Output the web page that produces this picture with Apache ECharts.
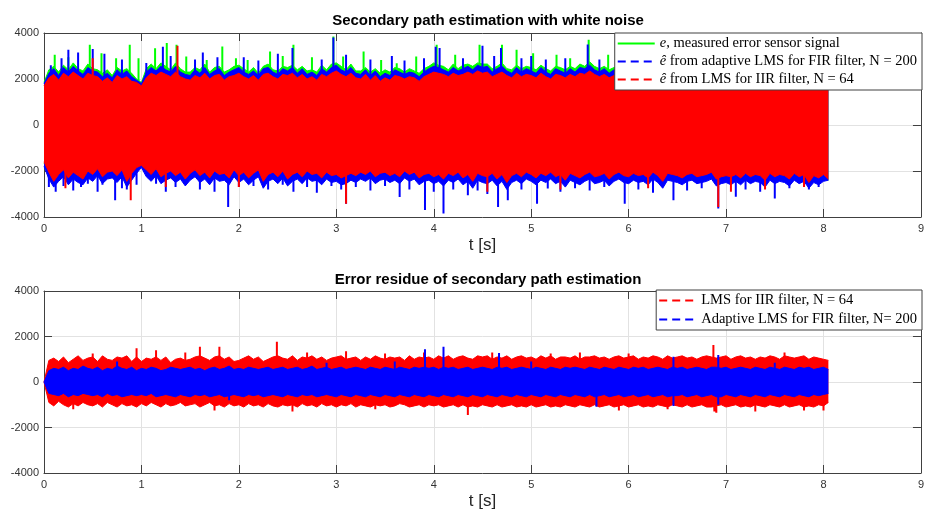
<!DOCTYPE html>
<html>
<head>
<meta charset="utf-8">
<script src="https://cdn.jsdelivr.net/npm/echarts@6/dist/echarts.min.js"></script>
<style>html,body{margin:0;padding:0;background:#fff}#c{width:927px;height:518px}</style>
</head>
<body>
<div id="c"></div>
<script>
// ---- Data: dense-band envelopes at 0.05 s steps + isolated peaks ----
const DT = 0.05;
const xTicks = [0,1,2,3,4,5,6,7,8,9];
const yTicks = [-4000,-2000,0,2000,4000];

// Top panel bodies (upper / lower envelope)
const eHi = [1850,2400,2550,2300,2600,2400,2700,2450,2350,2650, 2450,2400,2250,2400,2150,2500,2350,2450,2250,2000,
  1850,2450,2650,2450,2700,2550,2400,2700,2450,2300, 2300,2500,2400,2650,2300,2500,2550,2300,2400,2550,
  2600,2450,2300,2500,2250,2550,2650,2400,2350,2550, 2500,2600,2400,2550,2350,2400,2300,2600,2400,2650,
  2700,2550,2400,2650,2350,2350,2500,2300,2450,2250, 2400,2300,2500,2450,2300,2450,2350,2250,2450,2550,
  2700,2600,2550,2400,2650,2450,2600,2650,2550,2700, 2650,2650,2450,2550,2700,2450,2400,2600,2450,2550,
  2500,2400,2600,2450,2350,2550,2500,2400,2550,2450, 2650,2550,2750,2550,2450,2550,2400,2500,2450,2350,
  2450,2400,2550,2450,2350,2500,2450,2600,2400,2550, 2450,2350,2500,2400,2550,2450,2300,2500,2400,2550,
  2450,2550,2400,2500,2350,2450,2600,2400,2500,2350, 2450,2400,2550,2350,2500,2450,2400,2550,2450,2500,
  2400,2300];
const eLo = [-1650,-2100,-2500,-2200,-2000,-2350,-2100,-2250,-2400,-2050, -2200,-1950,-2300,-2100,-2050,-2250,-2000,-2500,-2150,-1900,
  -1800,-2000,-2200,-1950,-2300,-2150,-2050,-2250,-2100,-2400, -2150,-2000,-2250,-2100,-2350,-2050,-2200,-2150,-2350,-2000,
  -2250,-2100,-2350,-2150,-2000,-2500,-2200,-2100,-2300,-2050, -2400,-2200,-2100,-2300,-2050,-2200,-2150,-2350,-2100,-2250,
  -2200,-2350,-2250,-2150,-2250,-2100,-2200,-2050,-2300,-2150, -2100,-2250,-2150,-2300,-2050,-2200,-2100,-2350,-2200,-2150,
  -2300,-2200,-2400,-2150,-2250,-2100,-2350,-2200,-2500,-2150, -2250,-2300,-2150,-2400,-2200,-2550,-2250,-2150,-2300,-2100,
  -2200,-2350,-2150,-2250,-2100,-2300,-2200,-2450,-2150,-2250, -2350,-2200,-2100,-2300,-2250,-2150,-2400,-2200,-2100,-2250,
  -2300,-2150,-2250,-2200,-2350,-2100,-2250,-2500,-2150,-2200, -2250,-2350,-2200,-2150,-2300,-2250,-2200,-2100,-2400,-2300,
  -2250,-2300,-2200,-2350,-2150,-2300,-2200,-2250,-2450,-2150, -2300,-2200,-2250,-2400,-2150,-2300,-2200,-2550,-2250,-2350,
  -2200,-2400];
const firHi = [1800,2250,2450,2150,2500,2300,2550,2350,2200,2500, 2350,2300,2100,2250,2050,2400,2200,2350,2100,1950,
  1800,2300,2500,2350,2550,2400,2300,2550,2300,2200, 2150,2400,2250,2500,2200,2350,2450,2150,2300,2400,
  2500,2300,2200,2350,2150,2450,2500,2300,2200,2450, 2350,2500,2250,2450,2200,2300,2150,2450,2300,2500,
  2600,2400,2300,2500,2250,2200,2400,2150,2350,2100, 2250,2150,2400,2300,2200,2300,2250,2100,2300,2450,
  2550,2500,2400,2300,2500,2350,2450,2550,2400,2600, 2500,2550,2300,2450,2550,2350,2250,2500,2300,2450,
  2350,2250,2500,2300,2200,2450,2350,2250,2450,2300, 2500,2450,2600,2400,2300,2450,2250,2400,2300,2200,
  2350,2250,2450,2300,2200,2400,2300,2500,2250,2450, 2300,2200,2400,2250,2450,2300,2150,2400,2250,2450,
  2300,2450,2250,2400,2200,2300,2500,2250,2400,2200, 2300,2250,2450,2200,2400,2300,2250,2450,2300,2400,
  2250,2200];
const firLo = [-1800,-2350,-2700,-2450,-2250,-2600,-2350,-2500,-2600,-2300, -2450,-2200,-2550,-2350,-2300,-2500,-2250,-2700,-2400,-2100,
  -1850,-2250,-2450,-2200,-2550,-2400,-2300,-2500,-2350,-2650, -2400,-2250,-2500,-2350,-2600,-2300,-2450,-2400,-2600,-2250,
  -2500,-2350,-2600,-2400,-2250,-2750,-2450,-2350,-2550,-2300, -2650,-2450,-2350,-2550,-2300,-2450,-2400,-2600,-2350,-2500,
  -2450,-2600,-2550,-2400,-2500,-2350,-2450,-2300,-2550,-2400, -2350,-2500,-2400,-2550,-2300,-2450,-2350,-2600,-2450,-2400,
  -2550,-2450,-2650,-2400,-2500,-2350,-2600,-2450,-2750,-2400, -2500,-2550,-2400,-2650,-2450,-2800,-2500,-2400,-2550,-2350,
  -2450,-2600,-2400,-2500,-2350,-2550,-2450,-2700,-2400,-2500, -2600,-2450,-2350,-2550,-2500,-2400,-2650,-2450,-2350,-2500,
  -2550,-2400,-2500,-2450,-2600,-2350,-2500,-2750,-2400,-2450, -2500,-2600,-2450,-2400,-2550,-2500,-2450,-2350,-2650,-2550,
  -2500,-2600,-2450,-2600,-2400,-2550,-2450,-2500,-2700,-2400, -2550,-2450,-2500,-2650,-2400,-2550,-2450,-2750,-2500,-2600,
  -2450,-2400];
const iirHi = [1700,2050,2200,1950,2250,2100,2300,2150,2000,2250, 2150,2100,1900,2050,1850,2150,2000,2100,1900,1850,
  1700,2050,2250,2150,2300,2200,2100,2300,2100,2000, 1950,2150,2050,2250,2000,2150,2200,1950,2100,2150,
  2250,2100,2000,2150,1950,2200,2250,2100,2000,2200, 2150,2250,2050,2200,2000,2100,1950,2200,2100,2250,
  2350,2200,2100,2250,2050,2000,2200,1950,2150,1900, 2050,1950,2150,2100,2000,2100,2050,1900,2100,2200,
  2300,2250,2200,2100,2250,2150,2200,2300,2200,2350, 2250,2300,2100,2200,2300,2150,2050,2250,2100,2200,
  2150,2050,2250,2100,2000,2200,2150,2050,2200,2100, 2250,2200,2350,2200,2100,2200,2050,2150,2100,2000,
  2150,2050,2200,2100,2000,2150,2100,2250,2050,2200, 2100,2000,2150,2050,2200,2100,1950,2150,2050,2200,
  2100,2200,2050,2150,2000,2100,2250,2050,2150,2000, 2100,2050,2200,2000,2150,2100,2050,2200,2100,2150,
  2050,2100];
const iirLo = [-1600,-2050,-2450,-2150,-1950,-2300,-2050,-2200,-2350,-2000, -2150,-1900,-2250,-2050,-2000,-2200,-1950,-2450,-2100,-1850,
  -1750,-1950,-2150,-1900,-2250,-2100,-2000,-2200,-2050,-2350, -2100,-1950,-2200,-2050,-2300,-2000,-2150,-2100,-2300,-1950,
  -2200,-2050,-2300,-2100,-1950,-2450,-2150,-2050,-2250,-2000, -2350,-2150,-2050,-2250,-2000,-2150,-2100,-2300,-2050,-2200,
  -2150,-2300,-2200,-2100,-2200,-2050,-2150,-2000,-2250,-2100, -2050,-2200,-2100,-2250,-2000,-2150,-2050,-2300,-2150,-2100,
  -2250,-2150,-2350,-2100,-2200,-2050,-2300,-2150,-2450,-2100, -2200,-2250,-2100,-2350,-2150,-2500,-2200,-2100,-2250,-2050,
  -2150,-2300,-2100,-2200,-2050,-2250,-2150,-2400,-2100,-2200, -2300,-2150,-2050,-2250,-2200,-2100,-2350,-2150,-2050,-2200,
  -2250,-2100,-2200,-2150,-2300,-2050,-2200,-2450,-2100,-2150, -2200,-2300,-2150,-2100,-2250,-2200,-2150,-2050,-2350,-2250,
  -2200,-2250,-2150,-2300,-2100,-2250,-2150,-2200,-2400,-2100, -2250,-2150,-2200,-2350,-2100,-2250,-2150,-2500,-2200,-2300,
  -2150,-2350];

// Top panel isolated peaks [t, value]
const ePeaks = [[0.11,3050],[0.25,2950],[0.47,3490],[0.59,3120],[0.74,2900],[0.88,3490],[0.97,2900],[1.14,3340],[1.26,3560],
  [1.36,3490],[1.46,2980],[1.67,2830],[1.83,3410],[1.97,2900],[2.09,2830],[2.32,3200],[2.45,3000],[2.56,3490],[2.75,2950],
  [2.97,3850],[3.07,2980],[3.28,3200],[3.46,2830],[3.62,2690],[3.82,2980],[4.03,3490],[4.22,3050],[4.47,3490],[4.70,3490],
  [4.85,3270],[5.02,3120],[5.26,3050],[5.40,2900],[5.59,3710],[5.79,3050]];
const firPeaks = [[0.07,2600],[0.18,2900],[0.25,3270],[0.35,3150],[0.50,3300],[0.62,3100],[0.80,2850],[1.05,2700],[1.22,3400],
  [1.30,3000],[1.55,2850],[1.63,3150],[1.78,2950],[2.05,2950],[2.20,2800],[2.40,3100],[2.55,3350],[2.85,2850],[2.97,3800],
  [3.10,3050],[3.35,2850],[3.57,3000],[3.70,2800],[3.90,2900],[4.02,3400],[4.06,3350],[4.30,2900],[4.50,3450],[4.62,3000],
  [4.69,3350],[4.90,2900],[5.00,3000],[5.15,2850],[5.35,2900],[5.58,3500],[5.70,2850],
  [0.05,-2700],[0.12,-2900],[0.20,-2650],[0.30,-2850],[0.38,-2700],[0.45,-2550],[0.55,-2900],[0.60,-2600],[0.73,-3270],
  [0.80,-2750],[0.85,-2800],[0.95,-2600],[1.15,-2550],[1.25,-2900],[1.35,-2700],[1.45,-2550],[1.60,-2800],[1.75,-2900],
  [1.89,-3560],[2.00,-2700],[2.15,-2650],[2.30,-2800],[2.45,-2600],[2.56,-2900],[2.70,-2700],[2.80,-2950],[2.95,-2650],
  [3.05,-2800],[3.10,-3420],[3.20,-2700],[3.35,-2850],[3.50,-2650],[3.65,-3130],[3.75,-2800],[3.91,-3700],[4.00,-2900],
  [4.10,-3850],[4.20,-2800],[4.35,-3050],[4.45,-2850],[4.55,-3000],[4.66,-3560],[4.76,-3270],[4.90,-2800],[5.06,-3420],
  [5.17,-2760],[5.30,-2900],[5.45,-2750],[5.60,-2850],[5.75,-2700],[5.96,-3420],[6.10,-2800],[6.25,-2950],[6.35,-2700],
  [6.46,-3270],[6.60,-2850],[6.75,-2750],[6.92,-3630],[7.10,-3120],[7.20,-2800],[7.35,-2900],[7.50,-3200],[7.65,-2750],
  [7.85,-2800],[7.95,-2700]];
const iirPeaks = [[0.50,2900],[1.37,3450],[0.22,-2750],[0.89,-3270],[1.25,-2700],[2.00,-2700],[3.10,-3420],[4.55,-2900],
  [5.30,-2800],[6.20,-2750],[6.92,-3560],[7.05,-2900],[7.40,-2800],[7.80,-2700]];

// Bottom panel bodies
const resIirHi = [0,950,1050,900,1100,850,1000,1150,950,1050, 1100,900,1150,1000,950,1100,1050,1150,900,1100,
  900,1050,1000,1100,950,1100,850,1000,1050,950, 1000,1100,1150,1050,950,1100,1150,1000,1100,900,
  950,1050,1150,1000,1100,900,1000,1100,1150,1050, 1000,1150,950,1100,1050,1150,1000,1100,950,1050,
  1100,1150,1000,1050,1100,950,1100,1000,1150,1050, 1000,1100,1050,1100,950,1150,1000,1100,1050,1100,
  1000,1150,1050,1150,1000,1100,1150,1050,1000,1150, 1100,1150,1000,1100,1050,1150,1000,1100,1150,1050,
  1100,1000,1150,1050,1150,1000,1100,1100,1050,1150, 1000,1100,1100,1150,1050,1100,1000,1100,1150,1050,
  1100,1150,1000,1100,1050,1150,1100,1000,1150,1050, 1100,1150,1050,1100,1000,1100,1150,1100,1050,1100,
  1150,1000,1100,1150,1050,1100,1000,1100,1050,1150, 1100,1000,1150,1100,1050,1100,1150,1000,1100,1050,
  1000,950];
const resIirLo = [0,-900,-1050,-850,-1000,-1100,-950,-1050,-900,-1000, -1050,-950,-1100,-900,-1000,-1100,-950,-1050,-1000,-1100,
  -950,-1050,-900,-1000,-1100,-950,-1050,-1000,-900,-1050, -1000,-950,-1100,-1000,-900,-1050,-1000,-1100,-950,-1050,
  -1000,-1100,-950,-1050,-1000,-1100,-950,-1050,-1100,-1000, -1050,-1000,-1100,-950,-1050,-1000,-1100,-950,-1050,-1000,
  -1100,-1000,-1050,-950,-1100,-1000,-1050,-1100,-1000,-1050, -1000,-1100,-1050,-950,-1000,-1100,-1050,-1000,-1100,-1000,
  -1050,-1000,-1100,-1050,-1000,-1100,-1000,-1100,-1050,-1100, -1000,-1050,-1100,-1000,-1100,-1050,-1000,-1100,-1050,-1100,
  -1000,-1100,-1050,-1000,-1100,-1050,-1100,-1000,-1050,-1100, -1000,-1050,-1100,-1000,-1100,-1050,-1000,-1100,-1050,-1000,
  -1100,-1050,-1000,-1100,-1050,-1100,-1000,-1050,-1100,-1000, -1050,-1100,-1000,-1100,-1050,-1000,-1100,-1100,-1050,-1000,
  -1100,-1050,-1000,-1100,-1050,-1100,-1000,-1050,-1100,-1000, -1050,-1100,-1000,-1100,-1050,-1000,-1100,-1050,-1100,-1000,
  -1050,-900];
const resFirHi = [0,500,600,550,650,500,600,550,700,600, 550,650,500,600,550,700,600,550,650,500,
  600,550,650,600,500,550,650,600,550,600, 650,550,600,500,600,650,550,600,700,550,
  600,550,650,600,550,600,650,550,600,650, 550,600,650,550,600,700,550,600,650,550,
  600,650,550,600,650,600,550,650,600,550, 650,600,550,650,600,550,650,600,650,600,
  650,550,650,600,650,550,600,650,550,600, 650,600,550,650,600,650,550,600,650,600,
  550,650,600,550,650,600,550,650,600,650, 600,550,650,600,550,650,600,550,650,600,
  550,650,600,650,550,600,650,600,550,650, 600,650,550,600,650,600,550,650,650,600,
  650,550,600,650,600,550,650,600,550,650, 600,550,650,600,550,650,600,650,550,600,
  650,550];
const resFirLo = [0,-500,-550,-600,-500,-650,-550,-600,-500,-550, -600,-550,-650,-500,-600,-550,-650,-600,-550,-600,
  -550,-600,-500,-650,-600,-550,-600,-650,-550,-600, -650,-550,-600,-550,-650,-600,-550,-650,-600,-550,
  -600,-650,-550,-600,-550,-650,-600,-550,-600,-650, -550,-600,-650,-550,-600,-550,-650,-600,-550,-600,
  -650,-550,-600,-650,-550,-600,-650,-550,-600,-650, -550,-600,-650,-550,-600,-650,-550,-600,-650,-550,
  -600,-650,-550,-600,-650,-550,-600,-650,-550,-600, -650,-550,-600,-650,-550,-600,-650,-550,-600,-650,
  -550,-600,-650,-550,-600,-650,-550,-600,-650,-550, -600,-650,-550,-650,-600,-550,-650,-600,-550,-650,
  -600,-550,-650,-600,-550,-650,-600,-550,-650,-600, -600,-550,-650,-600,-550,-650,-600,-550,-650,-650,
  -550,-600,-650,-550,-600,-650,-550,-600,-650,-550, -600,-650,-550,-600,-650,-550,-600,-650,-550,-600,
  -550,-500];
const resIirPeaks = [[0.30,-1200],[0.50,1250],[0.95,1480],[1.15,1400],[1.45,1300],[1.60,1550],[1.75,-1250],[1.80,1550],
  [2.39,1770],[2.55,-1300],[2.70,1300],[3.10,1350],[3.40,-1200],[3.50,1250],[3.90,1300],[4.35,-1450],[4.60,1300],
  [5.20,1250],[5.50,1300],[5.90,-1250],[6.00,1250],[6.40,-1200],[6.87,1625],[6.88,-1300],[6.90,-1350],[7.30,-1300],
  [7.60,1300],[7.80,-1250],[8.00,-1250]];
const resFirPeaks = [[0.75,900],[1.90,-800],[2.90,850],[3.60,900],[3.91,1440],[4.10,1550],[4.67,1270],[5.00,900],
  [5.67,-1085],[6.46,1110],[6.46,-1060],[6.92,1190],[6.92,-1000],[7.50,850]];

const titles = ['Secondary path estimation with white noise', 'Error residue of secondary path estimation'];
const NAME_E = 'e, measured error sensor signal';
const NAME_FIR = 'ê from adaptive LMS for FIR filter, N = 200';
const NAME_IIR = 'ê from LMS for IIR filter, N = 64';
const NAME_RIIR = 'LMS for IIR filter, N = 64';
const NAME_RFIR = 'Adaptive LMS for FIR filter, N= 200';

// ---- Styling / build ----
const GREEN = '#00ff00', BLUE = '#0000ff', RED = '#ff0000';
const AX = '#404040', GRIDC = '#e2e2e2', LBL = '#333333';
const SANS = 'Liberation Sans, Arial, Helvetica, sans-serif';
const SERIF = 'Liberation Serif, Times New Roman, serif';
const time = eHi.map((_, i) => +(i * DT).toFixed(2));

function band(name, hi, lo, color, xi, yi, z) {
  const mk = arr => ({
    name, type: 'line', xAxisIndex: xi, yAxisIndex: yi, symbol: 'none', silent: true, z,
    data: time.map((t, i) => [t, arr[i]]),
    lineStyle: { color, width: 1 }, itemStyle: { color },
    areaStyle: { color, opacity: 1 }
  });
  return [mk(hi), mk(lo)];
}
function peaks(name, list, color, xi, yi, z) {
  return {
    name, type: 'line', xAxisIndex: xi, yAxisIndex: yi, symbol: 'none', silent: true, z,
    data: list.flatMap(([t, v]) => [[t, 0], [t, v], [t, 0]]),
    lineStyle: { color, width: 2 }, itemStyle: { color }
  };
}

const axLine = { show: true, onZero: false, lineStyle: { color: AX } };
const axTick = { show: true, inside: true, length: 8, lineStyle: { color: AX } };
function xAxes(gi) {
  return [
    { gridIndex: gi, type: 'value', min: 0, max: 9, interval: 1, position: 'bottom',
      axisLine: axLine, axisTick: axTick,
      axisLabel: { color: LBL, fontFamily: SANS, fontSize: 11, margin: 6,
        formatter: v => xTicks.includes(v) ? String(v) : '' },
      splitLine: { show: true, lineStyle: { color: GRIDC, width: 1 } },
      name: 't [s]', nameLocation: 'middle', nameGap: 20,
      nameTextStyle: { fontFamily: SANS, fontSize: 17, color: '#262626' } },
    { gridIndex: gi, type: 'value', min: 0, max: 9, interval: 1, position: 'top', z: 10,
      axisLine: axLine, axisTick: axTick,
      axisLabel: { show: false }, splitLine: { show: false } }
  ];
}
function yAxes(gi) {
  return [
    { gridIndex: gi, type: 'value', min: -4000, max: 4000, interval: 2000, position: 'left',
      axisLine: axLine, axisTick: axTick,
      axisLabel: { color: LBL, fontFamily: SANS, fontSize: 11, margin: 5,
        formatter: v => yTicks.includes(v) ? String(v) : '' },
      splitLine: { show: true, lineStyle: { color: GRIDC, width: 1 } } },
    { gridIndex: gi, type: 'value', min: -4000, max: 4000, interval: 2000, position: 'right', z: 10,
      axisLine: axLine, axisTick: axTick,
      axisLabel: { show: false }, splitLine: { show: false } }
  ];
}

const legendText = {
  fontFamily: SERIF, fontSize: 14.5, color: '#000',
  rich: { i: { fontFamily: SERIF, fontSize: 14.5, fontStyle: 'italic', color: '#000' },
          n: { fontFamily: SERIF, fontSize: 14.5, color: '#000' } }
};
function legendFmt(name) {
  if (name === NAME_E) return '{i|e}{n|, measured error sensor signal}';
  if (name.startsWith('ê')) return '{i|ê}{n|' + name.slice(1) + '}';
  return '{n|' + name + '}';
}
const DASH = [8, 5];
const hideSym = { opacity: 0, borderWidth: 0 };
function legendItem(name, color, dashed) {
  return { name, itemStyle: hideSym, lineStyle: { type: dashed ? DASH : 'solid', width: 2, color } };
}

const option = {
  animation: false,
  backgroundColor: '#ffffff',
  title: [
    { text: titles[0], left: 483, top: 8, textAlign: 'center',
      textStyle: { fontFamily: SANS, fontSize: 15, fontWeight: 'bold', color: '#000' } },
    { text: titles[1], left: 483, top: 267, textAlign: 'center',
      textStyle: { fontFamily: SANS, fontSize: 15, fontWeight: 'bold', color: '#000' } }
  ],
  grid: [
    { left: 44, right: 5, top: 33, height: 184, show: true, backgroundColor: '#fff', borderWidth: 0 },
    { left: 44, right: 5, top: 291, height: 182, show: true, backgroundColor: '#fff', borderWidth: 0 }
  ],
  xAxis: [...xAxes(0), ...xAxes(1)],
  yAxis: [...yAxes(0), ...yAxes(1)],
  legend: [
    { orient: 'vertical', right: 5, top: 33, padding: [3, 5, 3, 2], itemWidth: 37, itemHeight: 14, itemGap: 3, z: 20,
      backgroundColor: '#fff', borderColor: AX, borderWidth: 1, borderRadius: 0, selectedMode: false,
      textStyle: legendText, formatter: legendFmt,
      data: [legendItem(NAME_E, GREEN, false), legendItem(NAME_FIR, BLUE, true), legendItem(NAME_IIR, RED, true)] },
    { orient: 'vertical', right: 5, top: 290, padding: [3, 5, 3, 2], itemWidth: 37, itemHeight: 14, itemGap: 4, z: 20,
      backgroundColor: '#fff', borderColor: AX, borderWidth: 1, borderRadius: 0, selectedMode: false,
      textStyle: legendText, formatter: legendFmt,
      data: [legendItem(NAME_RIIR, RED, true), legendItem(NAME_RFIR, BLUE, true)] }
  ],
  series: [
    ...band(NAME_E, eHi, eLo, GREEN, 0, 0, 2),
    peaks(NAME_E, ePeaks, GREEN, 0, 0, 2),
    ...band(NAME_FIR, firHi, firLo, BLUE, 0, 0, 3),
    peaks(NAME_FIR, firPeaks, BLUE, 0, 0, 3),
    ...band(NAME_IIR, iirHi, iirLo, RED, 0, 0, 4),
    peaks(NAME_IIR, iirPeaks, RED, 0, 0, 4),
    ...band(NAME_RIIR, resIirHi, resIirLo, RED, 2, 2, 2),
    peaks(NAME_RIIR, resIirPeaks, RED, 2, 2, 2),
    ...band(NAME_RFIR, resFirHi, resFirLo, BLUE, 2, 2, 3),
    peaks(NAME_RFIR, resFirPeaks, BLUE, 2, 2, 3)
  ]
};

const chart = echarts.init(document.getElementById('c'), null, { renderer: 'canvas' });
chart.setOption(option);
</script>
</body>
</html>
